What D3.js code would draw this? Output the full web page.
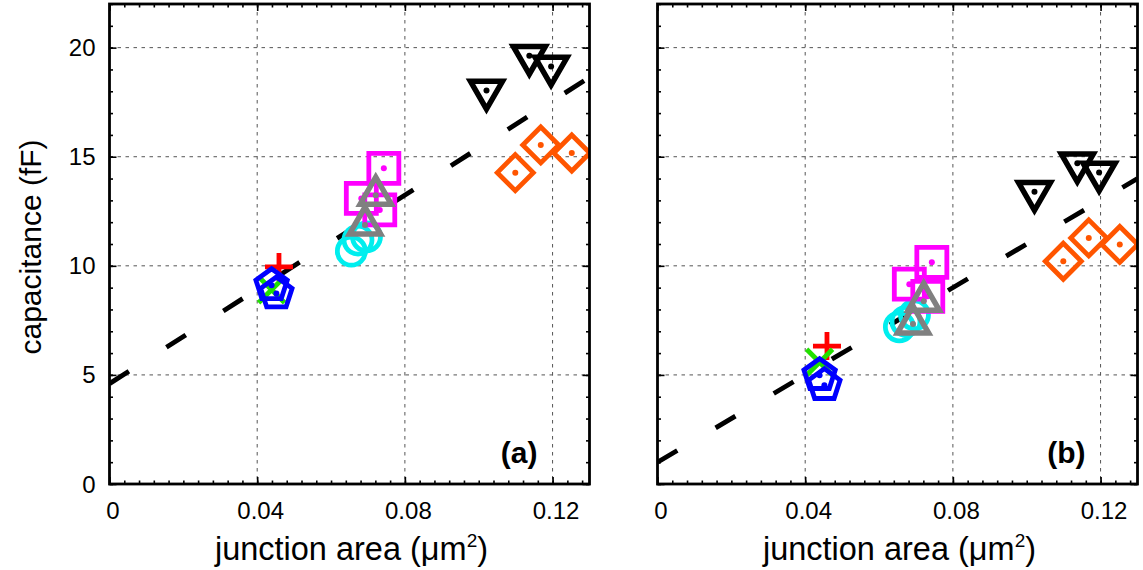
<!DOCTYPE html>
<html>
<head>
<meta charset="utf-8">
<script src="https://cdn.jsdelivr.net/npm/d3@7/dist/d3.min.js"></script>
<style>
  html, body { margin: 0; padding: 0; background: #fff; }
  svg { display: block; font-family: "Liberation Sans", Arial, sans-serif; }
</style>
</head>
<body>
<svg id="chart" width="1143" height="570"></svg>
<script>
// Junction area (um^2) of each device group, shared by both panels
const plusArea     = [0.0459];
const crossArea    = [0.0439];
const pentArea     = [0.0439, 0.0452];
const circleArea   = [0.0655, 0.0673, 0.0696];
const squareArea   = [0.0682, 0.0732, 0.0743];
const triUpArea    = [0.0692, 0.0721];
const triDownArea  = [0.1021, 0.1137, 0.1196];
const diamondArea  = [0.1099, 0.1168, 0.1252];

// Capacitance (fF), panel (a)
const plusCapA     = [9.95];
const crossCapA    = [8.9];
const pentCapA     = [9.11, 8.73];
const circleCapA   = [10.67, 11.18, 11.33];
const squareCapA   = [13.09, 12.56, 14.47];
const triUpCapA    = [11.87, 13.24];
const triDownCapA  = [18.03, 19.63, 19.13];
const diamondCapA  = [14.27, 15.54, 15.17];

// Capacitance (fF), panel (b)
const plusCapB     = [6.32];
const crossCapB    = [5.58];
const pentCapB     = [4.99, 4.53];
const circleCapB   = [7.2, 7.45, 7.75];
const squareCapB   = [9.16, 8.6, 10.16];
const triUpCapB    = [7.33, 8.38];
const triDownCapB  = [13.39, 14.70, 14.28];
const diamondCapB  = [10.21, 11.28, 10.98];

// Linear fits C = intercept + slope * area, per panel
const fitIntercept = [4.6, 1.0];
const fitSlope     = [108, 100];

// Axis ticks and labels
const xTicks = [0, 0.04, 0.08, 0.12];
const xTickLabels = ["0", "0.04", "0.08", "0.12"];
const yTicks = [0, 5, 10, 15, 20];
const yTickLabels = ["0", "5", "10", "15", "20"];
const panelLabels = ["(a)", "(b)"];

// ---- marker shapes (centred on 0,0) ----
function regularPolygon(n, r, rot) {
  const pts = d3.range(n).map(i => {
    const a = rot + i * 2 * Math.PI / n;
    return [r * Math.cos(a), r * Math.sin(a)];
  });
  return "M" + pts.map(p => p.join(",")).join("L") + "Z";
}
const shapes = {
  plus:     "M-14,0H14M0,-14V14",
  cross:    "M-13,-13L13,13M-13,13L13,-13",
  pentagon: regularPolygon(5, 16.5, -Math.PI / 2),
  circle:   "M14,0A14,14,0,1,1,-14,0A14,14,0,1,1,14,0Z",
  square:   "M-15,-15H15V15H-15Z",
  triUp:    regularPolygon(3, 18, -Math.PI / 2),
  triDown:  regularPolygon(3, 18.5, Math.PI / 2),
  diamond:  "M0,-18L18,0L0,18L-18,0Z"
};

const series = [
  {shape: "plus",     color: "#ff0000", dot: false, area: plusArea,    cap: [plusCapA, plusCapB]},
  {shape: "cross",    color: "#22e000", dot: false, area: crossArea,   cap: [crossCapA, crossCapB]},
  {shape: "circle",   color: "#00eeee", dot: false, area: circleArea,  cap: [circleCapA, circleCapB]},
  {shape: "square",   color: "#ff00ff", dot: true,  area: squareArea,  cap: [squareCapA, squareCapB]},
  {shape: "triUp",    color: "#808080", dot: true,  area: triUpArea,   cap: [triUpCapA, triUpCapB]},
  {shape: "pentagon", color: "#0000ff", dot: true,  area: pentArea,    cap: [pentCapA, pentCapB]},
  {shape: "triDown",  color: "#000000", dot: true,  area: triDownArea, cap: [triDownCapA, triDownCapB]},
  {shape: "diamond",  color: "#ff5500", dot: true,  area: diamondArea, cap: [diamondCapA, diamondCapB]}
];

// ---- layout ----
const svg = d3.select("#chart");
const panelLefts = [109.5, 657.5];
const plotW = 480, plotTop = 4, plotBottom = 484;
const xMax = 0.13, yMax = 22;

const y = d3.scaleLinear().domain([0, yMax]).range([plotBottom, plotTop]);

panelLefts.forEach((left, pi) => {
  const x = d3.scaleLinear().domain([0, xMax]).range([left, left + plotW]);
  const g = svg.append("g");
  const clipId = "clip" + pi;
  svg.append("clipPath").attr("id", clipId)
    .append("rect").attr("x", left).attr("y", plotTop).attr("width", plotW).attr("height", plotBottom - plotTop);

  // grid
  const grid = g.append("g").attr("stroke", "#555").attr("stroke-width", 1).attr("stroke-dasharray", "3.5,4.5");
  xTicks.filter(v => v > 0).forEach(v => {
    grid.append("line").attr("x1", x(v)).attr("x2", x(v)).attr("y1", plotTop).attr("y2", plotBottom);
  });
  yTicks.filter(v => v > 0).forEach(v => {
    grid.append("line").attr("x1", left).attr("x2", left + plotW).attr("y1", y(v)).attr("y2", y(v));
  });

  // axes with inward ticks on all four sides
  const minorX = d3.range(0, xMax + 1e-9, 0.004);
  const minorY = d3.range(0, yMax + 1e-9, 1);
  [[plotBottom, 1], [plotTop, -1]].forEach(([yy, dir]) => {
    g.append("g").attr("transform", `translate(0,${yy})`)
      .call(d3.axisBottom(x).tickValues(minorX).tickSize(-3.5 * dir).tickFormat("").tickSizeOuter(0));
    g.append("g").attr("transform", `translate(0,${yy})`)
      .call(d3.axisBottom(x).tickValues(xTicks).tickSize(-7 * dir).tickFormat("").tickSizeOuter(0));
  });
  [[left, 1], [left + plotW, -1]].forEach(([xx, dir]) => {
    g.append("g").attr("transform", `translate(${xx},0)`)
      .call(d3.axisLeft(y).tickValues(minorY).tickSize(-3.5 * dir).tickFormat("").tickSizeOuter(0));
    g.append("g").attr("transform", `translate(${xx},0)`)
      .call(d3.axisLeft(y).tickValues(yTicks).tickSize(-7 * dir).tickFormat("").tickSizeOuter(0));
  });
  g.selectAll(".domain").remove();
  g.selectAll(".tick line").attr("stroke", "#000").attr("stroke-width", 1.6);

  // fit line
  const fitData = [0, xMax].map(a => [a, fitIntercept[pi] + fitSlope[pi] * a]);
  g.append("path")
    .attr("clip-path", `url(#${clipId})`)
    .attr("d", d3.line().x(d => x(d[0])).y(d => y(d[1]))(fitData))
    .attr("fill", "none").attr("stroke", "#000").attr("stroke-width", 4.8)
    .attr("stroke-dasharray", "23,44.5");

  // markers
  const mk = g.append("g").attr("clip-path", `url(#${clipId})`);
  series.forEach(s => {
    const pts = s.area.map((a, i) => [a, s.cap[pi][i]]);
    const sg = mk.append("g");
    sg.selectAll("path").data(pts).join("path")
      .attr("transform", d => `translate(${x(d[0])},${y(d[1])})`)
      .attr("d", shapes[s.shape])
      .attr("fill", "none").attr("stroke", s.color)
      .attr("stroke-width", s.shape.startsWith("tri") ? 5.5 : 4.8)
      .attr("stroke-linejoin", "miter");
    if (s.dot) {
      sg.selectAll("circle").data(pts).join("circle")
        .attr("cx", d => x(d[0])).attr("cy", d => y(d[1])).attr("r", 3)
        .attr("fill", s.color);
    }
  });

  // frame
  g.append("rect").attr("x", left).attr("y", plotTop).attr("width", plotW).attr("height", plotBottom - plotTop)
    .attr("fill", "none").attr("stroke", "#000").attr("stroke-width", 2.8);

  // tick labels
  g.append("g").selectAll("text").data(xTicks).join("text")
    .attr("x", d => x(d) + 3.5).attr("y", 519)
    .attr("text-anchor", "middle").attr("font-size", 24)
    .text((d, i) => xTickLabels[i]);
  if (pi === 0) {
    g.append("g").selectAll("text").data(yTicks).join("text")
      .attr("x", left - 14).attr("y", d => y(d) + 8.5)
      .attr("text-anchor", "end").attr("font-size", 24)
      .text((d, i) => yTickLabels[i]);
    g.append("text")
      .attr("transform", `translate(41,${(plotTop + plotBottom) / 2 + 3}) rotate(-90)`)
      .attr("text-anchor", "middle").attr("font-size", 30)
      .text("capacitance (fF)");
  }

  // x-axis title
  const xt = g.append("text")
    .attr("x", left + plotW / 2 + 2).attr("y", 560)
    .attr("text-anchor", "middle").attr("font-size", 32.5);
  xt.append("tspan").text("junction area (\u03bcm");
  xt.append("tspan").attr("font-size", 19).attr("dy", -13).text("2");
  xt.append("tspan").attr("dy", 13).text(")");

  // panel label
  g.append("text")
    .attr("x", left + plotW - 52).attr("y", 463)
    .attr("text-anchor", "end").attr("font-size", 30).attr("font-weight", "bold")
    .text(panelLabels[pi]);
});
</script>
</body>
</html>
